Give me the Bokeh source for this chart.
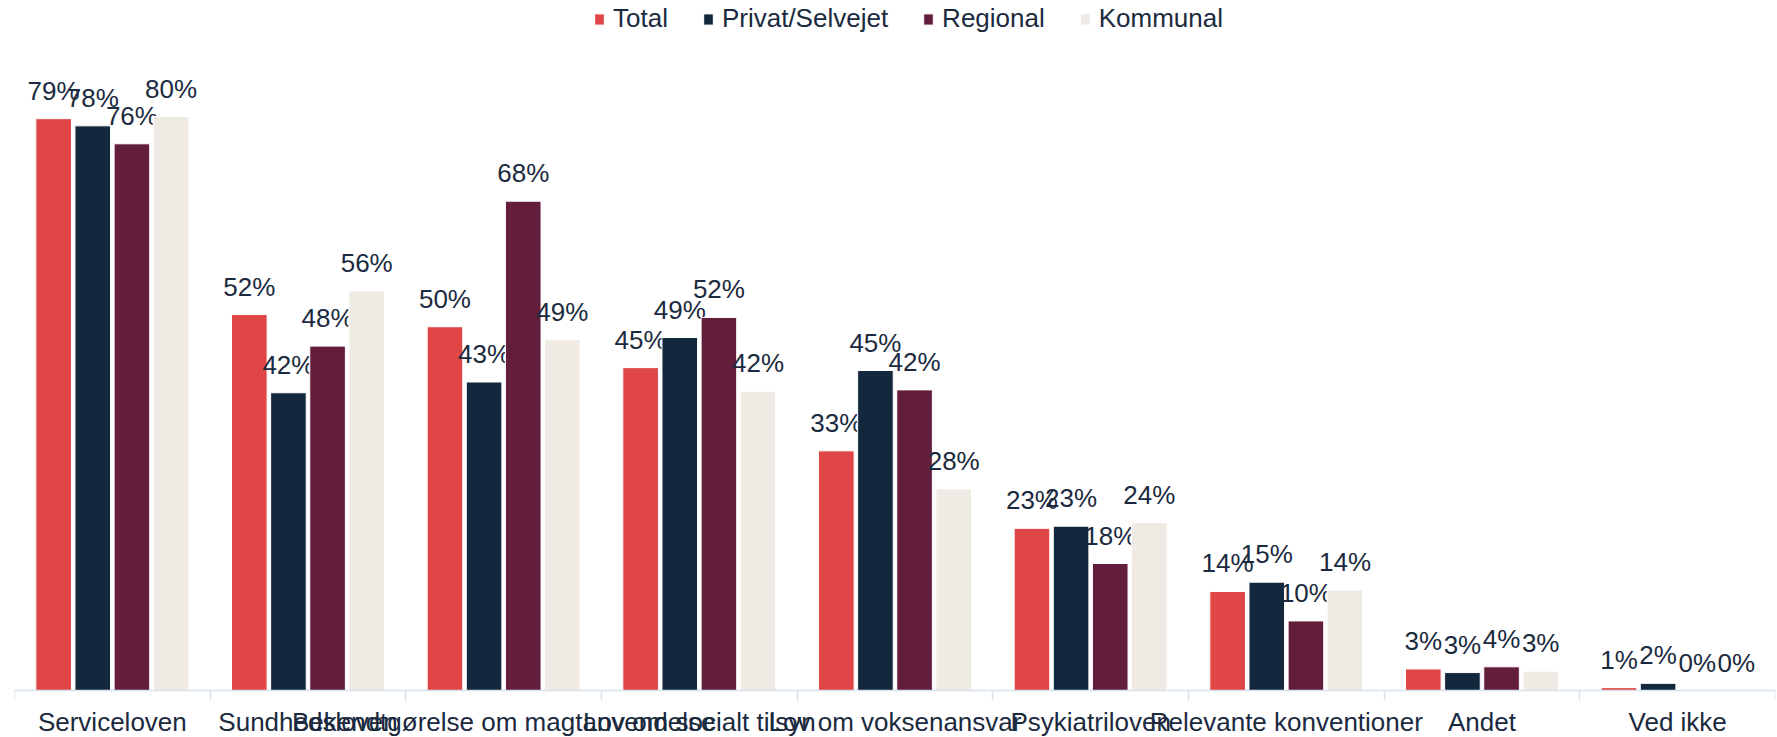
from bokeh.plotting import figure
from bokeh.models import (ColumnDataSource, FixedTicker, Range1d, Legend, LegendItem,
                          LinearAxis)
from bokeh.transform import dodge
from bokeh.core.properties import value
from bokeh.embed import file_html
from bokeh.resources import INLINE

categories = ["Serviceloven", "Sundhedsloven", "Bekendtgørelse om magtanvendelse",
              "Lov om socialt tilsyn", "Lov om voksenansvar", "Psykiatriloven",
              "Relevante konventioner", "Andet", "Ved ikke"]

# bar heights (percent)
total = [79.7, 52.4, 50.7, 45.0, 33.4, 22.6, 13.8, 3.0, 0.4]
privat = [78.7, 41.5, 43.0, 49.2, 44.6, 22.9, 15.1, 2.5, 1.0]
regional = [76.2, 48.0, 68.2, 52.0, 41.9, 17.7, 9.7, 3.3, 0.0]
kommunal = [80.0, 55.7, 48.9, 41.7, 28.1, 23.4, 14.0, 2.7, 0.0]

# data labels as printed on the chart
total_lbl = [79, 52, 50, 45, 33, 23, 14, 3, 1]
privat_lbl = [78, 42, 43, 49, 45, 23, 15, 3, 2]
regional_lbl = [76, 48, 68, 52, 42, 18, 10, 4, 0]
kommunal_lbl = [80, 56, 49, 42, 28, 24, 14, 3, 0]

series = [("Total", total, total_lbl, "#E04646"),
          ("Privat/Selvejet", privat, privat_lbl, "#13283D"),
          ("Regional", regional, regional_lbl, "#621E3B"),
          ("Kommunal", kommunal, kommunal_lbl, "#EFEAE3")]
offsets = [-0.3, -0.1, 0.1, 0.3]

FONT = "Liberation Sans"
TXT = "#1B2A3E"

xs = [i + 0.5 for i in range(len(categories))]
data = {"x": xs}
for name, vals, lbls, _ in series:
    data[name] = vals
    data[name + "_lbl"] = [f"{v}%" for v in lbls]
src = ColumnDataSource(data)

p = figure(width=1777, height=737, output_backend="svg", toolbar_location=None,
           x_range=Range1d(0, len(categories)), y_range=Range1d(-6.55, 96.17),
           x_axis_location=None, y_axis_location=None,
           min_border_left=14, min_border_right=2, min_border_top=0, min_border_bottom=0)
p.outline_line_color = None
p.grid.visible = False

items = []
for (name, vals, lbls, color), off in zip(series, offsets):
    r = p.vbar(x=dodge("x", off), top=name, width=0.182, source=src,
               fill_color=color, line_color="white", line_width=1)
    items.append(LegendItem(label=name, renderers=[r]))
    p.text(x=dodge("x", off), y=name, text=name + "_lbl", source=src,
           text_align="center", text_baseline="bottom", y_offset=-13,
           text_font=value(FONT), text_font_size="26px", text_color=TXT)

ax = LinearAxis(fixed_location=0)
ax.ticker = FixedTicker(ticks=xs, minor_ticks=list(range(len(categories) + 1)))
ax.major_label_overrides = {x: c for x, c in zip(xs, categories)}
ax.major_tick_out = 0
ax.major_tick_in = 0
ax.minor_tick_out = 10
ax.minor_tick_in = 0
ax.minor_tick_line_color = "#D5E3F0"
ax.minor_tick_line_width = 1.5
ax.axis_line_color = "#D5E3F0"
ax.axis_line_width = 1.5
ax.major_label_standoff = 6
ax.major_label_text_font = FONT
ax.major_label_text_font_size = "26px"
ax.major_label_text_color = TXT
p.add_layout(ax, "below")

legend = Legend(items=items, orientation="horizontal", location=(579, 703),
                glyph_width=12, glyph_height=14, label_standoff=8, spacing=34,
                padding=0, margin=0, border_line_color=None,
                background_fill_alpha=0,
                label_text_font=FONT, label_text_font_size="26px",
                label_text_color=TXT)
p.add_layout(legend)

open("out.html", "w").write(file_html(p, INLINE))
